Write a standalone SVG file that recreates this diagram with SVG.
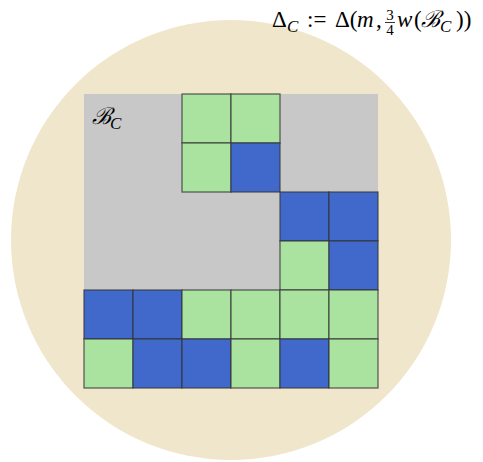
<svg xmlns="http://www.w3.org/2000/svg" width="483" height="462" viewBox="0 0 483 462">
<style>
.g{fill:#aae3a0}
.b{fill:#4169cc}
.c rect{stroke:#333;stroke-opacity:0.75;stroke-width:1.3}
.m{font-family:"Liberation Serif","DejaVu Serif",serif;fill:#000;font-size:23px}
.i{font-style:italic}
.s{font-style:italic;font-size:17px}
.f{font-family:"Liberation Serif","DejaVu Serif",serif;font-size:15px;text-anchor:middle}
</style>
<rect width="483" height="462" fill="#fff"/>
<circle id="disk" cx="231" cy="240" r="220" fill="#f0e6cc"/>
<rect id="region" x="84" y="94" width="294" height="196" fill="#c8c8c8"/>
<g id="cells" class="c">
<rect class="g" x="182" y="94" width="49" height="49"/>
<rect class="g" x="231" y="94" width="49" height="49"/>
<rect class="g" x="182" y="143" width="49" height="49"/>
<rect class="b" x="231" y="143" width="49" height="49"/>
<rect class="b" x="280" y="192" width="49" height="49"/>
<rect class="b" x="329" y="192" width="49" height="49"/>
<rect class="g" x="280" y="241" width="49" height="49"/>
<rect class="b" x="329" y="241" width="49" height="49"/>
<rect class="b" x="84" y="290" width="49" height="49"/>
<rect class="b" x="133" y="290" width="49" height="49"/>
<rect class="g" x="182" y="290" width="49" height="49"/>
<rect class="g" x="231" y="290" width="49" height="49"/>
<rect class="g" x="280" y="290" width="49" height="49"/>
<rect class="g" x="329" y="290" width="49" height="49"/>
<rect class="g" x="84" y="339" width="49" height="49"/>
<rect class="b" x="133" y="339" width="49" height="49"/>
<rect class="b" x="182" y="339" width="49" height="49"/>
<rect class="g" x="231" y="339" width="49" height="49"/>
<rect class="b" x="280" y="339" width="49" height="49"/>
<rect class="g" x="329" y="339" width="49" height="49"/>
</g>
<g id="label-B">
<text class="m i" x="92" y="124" font-size="23">ℬ</text>
<text class="m s" x="110" y="129">C</text>
</g>
<g id="title">
<text class="m" x="272" y="27">Δ</text>
<text class="m s" x="287" y="32">C</text>
<text class="m" x="307" y="27">:=</text>
<text class="m" x="335" y="27">Δ(</text>
<text class="m i" x="357" y="27">m</text>
<text class="m" x="376" y="27">,</text>
<text class="f" x="390" y="20">3</text>
<text class="f" x="390" y="35">4</text>
<line x1="385" y1="22.5" x2="395" y2="22.5" stroke="#000" stroke-width="0.8"/>
<text class="m i" x="397" y="27">w</text>
<text class="m" x="414" y="27">(</text>
<text class="m i" x="421" y="27">ℬ</text>
<text class="m s" x="440" y="32">C</text>
<text class="m" x="456" y="27">))</text>
</g>
</svg>
